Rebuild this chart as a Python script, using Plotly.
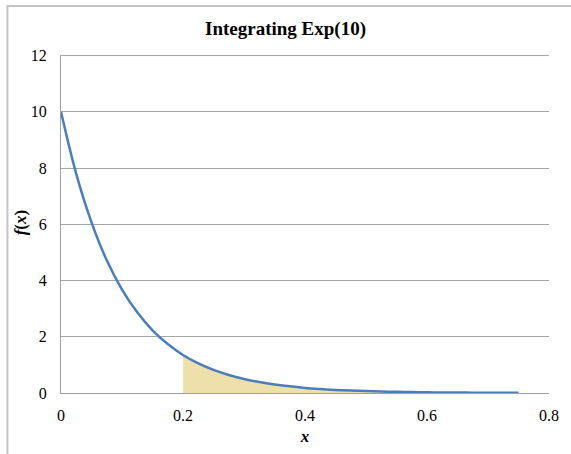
import plotly.graph_objects as go

x_vals = [0, 0.025, 0.05, 0.075, 0.1, 0.125, 0.15, 0.175, 0.2, 0.225, 0.25, 0.275, 0.3,
          0.325, 0.35, 0.375, 0.4, 0.425, 0.45, 0.475, 0.5, 0.525, 0.55, 0.575, 0.6,
          0.625, 0.65, 0.675, 0.7, 0.725, 0.75]
f_vals = [10, 7.79, 6.07, 4.72, 3.68, 2.87, 2.23, 1.74, 1.35, 1.05, 0.82, 0.64, 0.50,
          0.39, 0.30, 0.24, 0.18, 0.14, 0.11, 0.087, 0.067, 0.052, 0.041, 0.032, 0.025,
          0.019, 0.015, 0.012, 0.009, 0.007, 0.006]
shade_start = 0.2
x_ticks = [0, 0.2, 0.4, 0.6, 0.8]
y_ticks = [0, 2, 4, 6, 8, 10, 12]

sx = [x for x in x_vals if x >= shade_start]
sy = [y for x, y in zip(x_vals, f_vals) if x >= shade_start]

font = "Liberation Serif, Times New Roman, serif"
fig = go.Figure()
fig.add_trace(go.Scatter(x=[sx[0]] + sx + [sx[-1]], y=[0] + sy + [0], fill="toself",
                         fillcolor="#EEE0AA", line=dict(width=0), mode="lines",
                         hoverinfo="skip", showlegend=False))
fig.add_trace(go.Scatter(x=x_vals, y=f_vals, mode="lines", line=dict(color="#4A7EBB", width=2.5, shape="spline"),
                         showlegend=False))

fig.update_layout(
    width=571, height=454,
    margin=dict(l=61, r=18, t=55, b=61),
    paper_bgcolor="white", plot_bgcolor="white",
    title=dict(text="<b>Integrating Exp(10)</b>", x=0.5, xanchor="center", y=1 - 28/454, yanchor="middle",
               font=dict(family=font, size=19, color="black")),
    font=dict(family=font, size=16, color="black"),
    xaxis=dict(range=[0, 0.8], tickvals=x_ticks, ticktext=["0", "0.2", "0.4", "0.6", "0.8"],
               showgrid=False, zeroline=False, showline=True, linecolor="#A0A0A0", linewidth=1,
               ticks="", ticklen=0, ticklabelstandoff=8,
               title=dict(text="<b><i>x</i></b>", font=dict(family=font, size=17), standoff=6)),
    yaxis=dict(range=[0, 12.02], tickvals=y_ticks, showgrid=True, gridcolor="#A6A6A6", gridwidth=1,
               zeroline=False, showline=True, linecolor="#A0A0A0", linewidth=1, ticks="",
               ticklabelstandoff=10),
)
fig.add_annotation(text="<b><i>f</i>(<i>x</i>)</b>", xref="paper", yref="paper",
                   x=(20 - 61) / 492, y=(393 - 222) / 338, xanchor="center", yanchor="middle",
                   textangle=-90, showarrow=False, font=dict(family=font, size=17))
fig.add_shape(type="line", xref="paper", yref="y", x0=0, x1=1, y0=12, y1=12,
              line=dict(color="#A6A6A6", width=1))
fig.add_shape(type="rect", xref="paper", yref="paper",
              x0=-(61 - 7) / 492, x1=1.3, y0=-0.4, y1=(393 - 6) / 338,
              line=dict(color="#C4C4C4", width=2), layer="below")
fig.write_html("out.html")
